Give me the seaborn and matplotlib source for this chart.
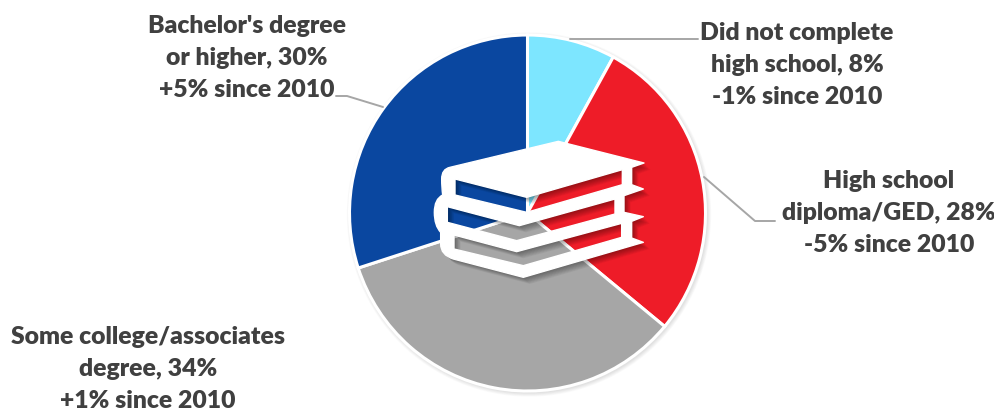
import numpy as np
import pandas as pd
import seaborn as sns
import matplotlib.pyplot as plt
from matplotlib.patches import Circle, PathPatch
from matplotlib.path import Path

# shares in percent, clockwise from 12 o'clock
categories = ['Did not complete\nhigh school', 'High school\ndiploma/GED',
              'Some college/associates\ndegree', "Bachelor's degree\nor higher"]
shares = [8, 28, 34, 30]
changes = ['-1%', '-5%', '+1%', '+5%']
colors = ['#7DE6FF', '#EE1C28', '#A6A6A6', '#0A47A0']

W, H = 995, 410
TEXT = '#404040'
LINE = '#A6A6A6'


def px(x, y):
    # reference pixels to data coords
    return x, H - y


def zoomed(points, off=0):
    # the icon was measured on a 3x crop starting at (400, 120)
    return [px(400 + (a + off) / 3, 120 + (b + off) / 3) for a, b in points]


# book outline in crop pixels, straight part then the rounded spines
outline = [(150, 145), (475, 67), (732, 132), (695, 145), (695, 197), (730, 210), (672, 230),
           (672, 280), (730, 293), (695, 307), (695, 357), (730, 370), (370, 475), (160, 420)]
spine = [(122, 408), (122, 375), (122, 340), (122, 340), (103, 320), (103, 280),
         (103, 240), (128, 228), (125, 205), (125, 180), (125, 150), (150, 145)]
gaps = [
    [(165, 180), (380, 235), (667, 152), (667, 197), (380, 280), (165, 228)],
    [(142, 263), (358, 320), (645, 240), (645, 285), (350, 365), (142, 310)],
    [(162, 348), (350, 398), (665, 313), (665, 355), (370, 440), (162, 390)],
]


def book_path(off=0):
    verts = zoomed(outline, off) + zoomed(spine, off)
    codes = [Path.MOVETO] + [Path.LINETO] * (len(outline) - 1) + [Path.CURVE3] * len(spine)
    # gaps run the other way round so they come out as holes
    for gap in gaps:
        pts = zoomed(gap[::-1], off)
        verts += pts + [pts[0]]
        codes += [Path.MOVETO] + [Path.LINETO] * (len(pts) - 1) + [Path.CLOSEPOLY]
    return Path(verts, codes)


df = pd.DataFrame({'category': categories, 'share': shares, 'change': changes})

sns.set_theme(style='white')
plt.rcParams['font.family'] = ['Lato', 'DejaVu Sans']

fig = plt.figure(figsize=(W / 100, H / 100), dpi=100)
ax = fig.add_axes([0, 0, 1, 1])

cx, cy = px(527.5, 214)
radius = 178

# soft shadow round the pie
for i in range(6, 0, -1):
    ax.add_patch(Circle((cx + 1.5, cy - 1.5), radius + i * 0.7, fc='black', ec='none',
                        alpha=0.018, zorder=1))

ax.pie(df['share'], colors=sns.color_palette(colors), startangle=90, counterclock=False,
       center=(cx, cy), radius=radius,
       wedgeprops={'edgecolor': 'white', 'linewidth': 2.2, 'zorder': 2})

# icon shadow, then the white book
for off in range(2, 22, 2):
    ax.add_patch(PathPatch(book_path(off), fc='black', ec='none', alpha=0.045, zorder=3))
ax.add_patch(PathPatch(book_path(), fc='white', ec='white', lw=1.0, joinstyle='round', zorder=4))

# leader lines
leaders = [
    [(570, 40), (698, 40)],
    [(704, 178), (755, 222), (775, 222)],
    [(336, 97), (347, 97), (383, 108)],
]
for pts in leaders:
    xs, ys = zip(*[px(*p) for p in pts])
    ax.plot(xs, ys, color=LINE, lw=1.4, zorder=7)

# labels
label_pos = [(797, 65), (889, 213), (148, 369), (247, 58)]
for row, (lx, ly) in zip(df.itertuples(), label_pos):
    tx, ty = px(lx, ly)
    ax.text(tx, ty, f'{row.category}, {row.share}%\n{row.change} since 2010', ha='center',
            va='center', fontsize=17.8, fontweight='heavy', color=TEXT, linespacing=1.54, zorder=8)

ax.set_xlim(0, W)
ax.set_ylim(0, H)
ax.set_aspect('equal')
ax.axis('off')
fig.savefig('out.png', dpi=100)
